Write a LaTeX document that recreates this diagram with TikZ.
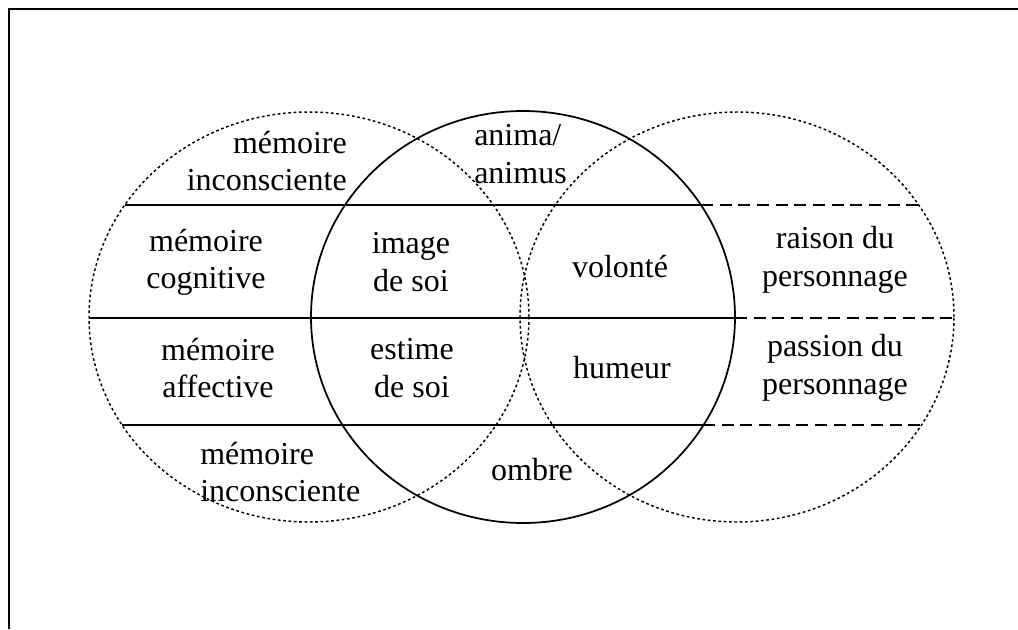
\documentclass[tikz,border=0pt]{standalone}
\usepackage{fontspec}
\setmainfont{Liberation Serif}
\usetikzlibrary{positioning}

\begin{document}
\begin{tikzpicture}[x=0.75pt,y=-0.75pt,
    word/.style={font=\fontsize{24}{28}\selectfont,align=center,inner sep=0pt},
    soft ring/.style={line width=1.1pt,dash pattern=on 2pt off 2pt},
    hard ring/.style={line width=1.3pt},
    band/.style={line width=1.5pt},
    dash band/.style={line width=1.5pt,dash pattern=on 9pt off 5pt}]

  \useasboundingbox (0,0) rectangle (1018,629);
  \draw[line width=1.5pt] (9,629) -- (9,9) -- (1018,9);

  % the three rings
  \draw[soft ring] (309,317) ellipse [x radius=165pt,y radius=153.75pt];
  \draw[hard ring] (523,317) ellipse [x radius=159pt,y radius=154.5pt];
  \draw[soft ring] (737,317) ellipse [x radius=162.75pt,y radius=153.75pt];

  % ends of the bands
  \coordinate (a1) at (125,205);
  \coordinate (a2) at (701,205);
  \coordinate (a3) at (919,205);
  \coordinate (b1) at (89,318);
  \coordinate (b2) at (735,318);
  \coordinate (b3) at (954,318);
  \coordinate (c1) at (122,425);
  \coordinate (c2) at (703,425);
  \coordinate (c3) at (921,425);

  \draw[band] (a1) -- (a2);
  \draw[dash band] (a2) -- (a3);
  \draw[band] (b1) -- (b2);
  \draw[dash band] (b2) -- (b3);
  \draw[band] (c1) -- (c2);
  \draw[dash band] (c2) -- (c3);

  \node[word,align=right,anchor=east] (memtop) at (347,161) {mémoire\\inconsciente};
  \node[word] (memcog) at (206,262) {mémoire\\cognitive};
  \node[word] (memaff) at (218,368) {mémoire\\affective};
  \node[word,align=left,anchor=west] (membot) at (200,472) {mémoire\\inconsciente};
  \node[word] (image) at (411,262) {image\\de soi};
  \node[word] (estime) at (412,368) {estime\\de soi};
  \node[word,align=left,anchor=west] (anima) at (474,154) {anima/\\animus};
  \node[word] (volonte) at (620,267) {volonté};
  \node[word] (humeur) at (622,368) {humeur};
  \node[word] (raison) at (835,260) {raison du\\personnage};
  \node[word] (passion) at (835,368) {passion du\\personnage};
  \node[word] (ombre) at (532,470) {ombre};
\end{tikzpicture}
\end{document}
